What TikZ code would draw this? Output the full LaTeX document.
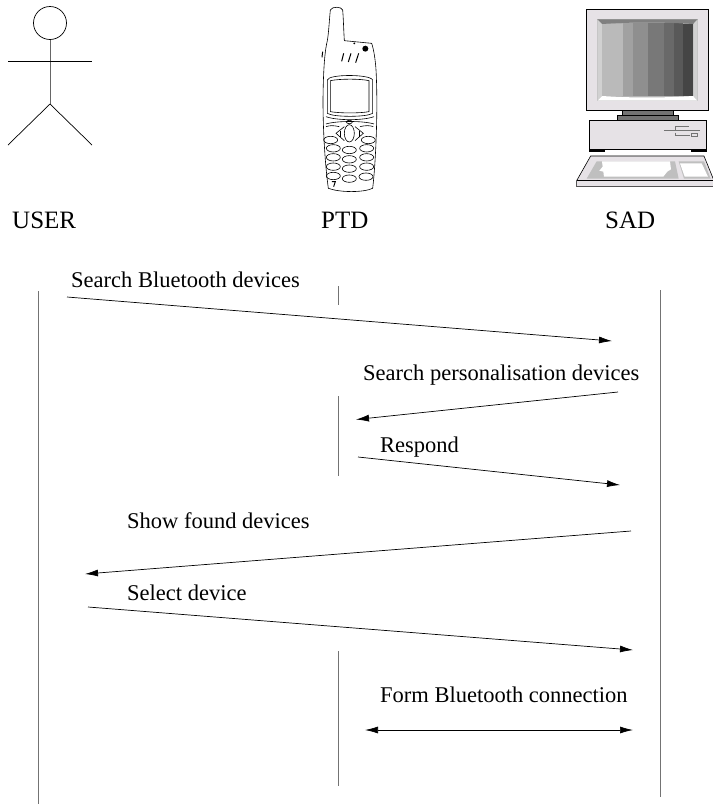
\documentclass[tikz,border=0pt]{standalone}
\usepackage{fontspec}
\setmainfont{Liberation Serif}
\usetikzlibrary{arrows.meta}
\definecolor{pale}{HTML}{E6E2E6}
\tikzset{
  x=1pt,y=-1pt,
  life/.style={line width=1pt,black!55},
  msg/.style={line width=0.7pt,black,-{Latex[length=13pt,width=7pt]}},
  both/.style={line width=0.7pt,black,{Latex[length=13pt,width=7pt]}-{Latex[length=13pt,width=7pt]}},
  lab/.style={font=\fontsize{22.5}{24}\selectfont,inner sep=0pt,anchor=base west},
  head/.style={font=\fontsize{25}{27}\selectfont,inner sep=0pt,anchor=base west},
  fig/.style={line width=0.6pt,black},
  zoomthree/.style={x=0.3333pt,y=-0.3333pt},
}
\begin{document}
\begin{tikzpicture}
\useasboundingbox[fill=white] (0,0) rectangle (713,807);
% USER actor
\draw[fig,line width=0.7pt] (50,23) circle[radius=16.5];
\draw[fig,line width=1pt,black!60] (50,40) -- (50,104);
\draw[fig,line width=0.7pt] (8,61) -- (92,61);
\draw[fig,line width=0.7pt] (8,145) -- (50,104) -- (92,145);
% PTD phone
\begin{scope}[shift={(300,0)},zoomthree]
\draw[fig,fill=white] (133,122) .. controls (131,90) and (130,50) .. (128,30) .. controls (126,20) and (96,18) .. (91,30)
 .. controls (88,60) and (86,100) .. (82,122) .. controls (75,150) and (70,200) .. (69,300)
 .. controls (69,400) and (76,500) .. (85,565) .. controls (120,578) and (190,578) .. (218,565)
 .. controls (226,500) and (234,350) .. (229,230) .. controls (228,190) and (222,150) .. (215,130) -- cycle;
\draw[fig,line width=1pt] (68,155) -- (66,172);
\fill (196,146) circle[radius=9];
\fill (163,130) circle[radius=3];
\draw[fig,line width=1pt] (131,160) -- (125,184) (153,160) -- (145,186) (176,160) -- (167,188);
\draw[fig] (82,240) .. controls (85,222) and (210,222) .. (218,240) -- (218,340) .. controls (200,352) and (100,352) .. (82,340) -- cycle;
\draw[fig] (91,242) .. controls (120,236) and (180,236) .. (207,242) -- (207,335) .. controls (180,340) and (120,340) .. (91,335) -- cycle;
\draw[fig] (78,350) .. controls (110,362) and (190,362) .. (222,350);
\draw[fig] (78,372) .. controls (110,362) and (190,362) .. (222,372);
\draw[fig] (148,400) ellipse[x radius=15,y radius=26];
\draw[fig] (133,380) -- (108,400) -- (133,422);
\draw[fig] (165,380) -- (190,400) -- (165,422);
\draw[fig] (120,392) -- (120,410) (178,392) -- (178,410);
\draw[fig] (148,366) ellipse[x radius=9,y radius=5];
\draw[fig] (78,380) .. controls (90,376) and (100,376) .. (118,380) (180,380) .. controls (195,376) and (210,376) .. (220,380);
\foreach \p/\q in {92/420,205/420,100/445,148/450,200/445,100/472,148/478,200/472,100/500,148/506,200/500,100/528,148/536,198/530}
  \draw[fig] (\p,\q) ellipse[x radius=21,y radius=11];
\draw[fig,line width=1pt] (96,545) -- (106,545) -- (101,560);
\end{scope}
% SAD computer
\begin{scope}[shift={(560,0)},zoomthree]
\filldraw[fig,fill=pale] (80,27) rectangle (445,332);
\fill[black!30] (112,58) -- (413,58) -- (413,302) -- (112,302) -- cycle;
\fill[black!27] (126,72) rectangle (190,288);
\fill[black!37] (190,70) rectangle (220,288);
\fill[black!44] (220,68) rectangle (264,288);
\fill[black!53] (264,68) rectangle (312,288);
\fill[black!59] (312,68) rectangle (342,288);
\fill[black!65] (342,70) rectangle (370,288);
\fill[black!73] (370,72) rectangle (400,288);
\fill[black!50] (112,58) -- (413,58) -- (400,72) .. controls (300,66) and (220,66) .. (126,72) -- cycle;
\fill[white] (112,302) -- (126,288) .. controls (220,294) and (300,294) .. (400,288) -- (413,302) -- cycle;
\fill[black!18] (112,58) -- (126,72) -- (126,288) -- (112,302) -- cycle;
\fill[black!18] (413,58) -- (400,72) -- (400,288) -- (413,302) -- cycle;
\filldraw[fig,fill=black!55] (187,332) rectangle (340,347);
\filldraw[fig,fill=black!55] (172,347) rectangle (355,362);
\filldraw[fig,fill=pale] (88,362) rectangle (440,448);
\fill (88,447) rectangle (135,455);
\fill (392,447) rectangle (440,455);
\draw[fig,line width=0.5pt,black!55] (312,390) -- (345,390) -- (345,378) -- (388,378) (345,398) -- (345,406) -- (390,406) (312,392) -- (420,392) (395,400) rectangle (413,408);
\filldraw[fig,fill=pale] (92,468) -- (432,468) -- (462,542) -- (462,560) -- (50,560) -- (50,542) -- cycle;
\draw[fig] (50,542) -- (462,542);
\fill[black!25] (80,536) -- (110,484) -- (345,484) -- (356,536) -- cycle;
\fill[white] (126,484) -- (330,484) -- (333,508) -- (322,515) -- (310,530) -- (132,530) -- (130,515) -- (118,512) -- (128,500) -- cycle;
\fill[black!25] (356,484) -- (432,484) -- (452,536) -- (372,536) -- cycle;
\fill[white] (360,490) -- (425,490) -- (444,530) -- (374,530) -- cycle;
\end{scope}
% labels
\node[head] (user) at (12,228) {USER};
\node[head] (ptd) at (321,228) {PTD};
\node[head] (sad) at (605,228) {SAD};
% lifelines
\coordinate (ua) at (38,291); \coordinate (ub) at (38,804);
\coordinate (pa) at (338,286); \coordinate (pb) at (338,305);
\coordinate (pc) at (338,396); \coordinate (pd) at (338,476);
\coordinate (pe) at (338,651); \coordinate (pf) at (338,786);
\coordinate (sa) at (660.5,290); \coordinate (sb) at (660.5,797);
\draw[life] (ua) -- (ub);
\draw[life] (pa) -- (pb);
\draw[life] (pc) -- (pd);
\draw[life] (pe) -- (pf);
\draw[life] (sa) -- (sb);
% messages
\coordinate (m1a) at (67,297); \coordinate (m1b) at (612,341);
\coordinate (m2a) at (618,392); \coordinate (m2b) at (356,419.5);
\coordinate (m3a) at (358,457); \coordinate (m3b) at (620,485);
\coordinate (m4a) at (631,531); \coordinate (m4b) at (85,574);
\coordinate (m5a) at (88,607); \coordinate (m5b) at (633,650);
\coordinate (m6a) at (365,730); \coordinate (m6b) at (633,730);
\draw[msg] (m1a) -- (m1b);
\draw[msg] (m2a) -- (m2b);
\draw[msg] (m3a) -- (m3b);
\draw[msg] (m4a) -- (m4b);
\draw[msg] (m5a) -- (m5b);
\draw[both] (m6a) -- (m6b);
\node[lab] (l1) at (71,287) {Search Bluetooth devices};
\node[lab] (l2) at (363,380) {Search personalisation devices};
\node[lab] (l3) at (380,452) {Respond};
\node[lab] (l4) at (127,528) {Show found devices};
\node[lab] (l5) at (127,600) {Select device};
\node[lab] (l6) at (380,702) {Form Bluetooth connection};
\end{tikzpicture}
\end{document}
